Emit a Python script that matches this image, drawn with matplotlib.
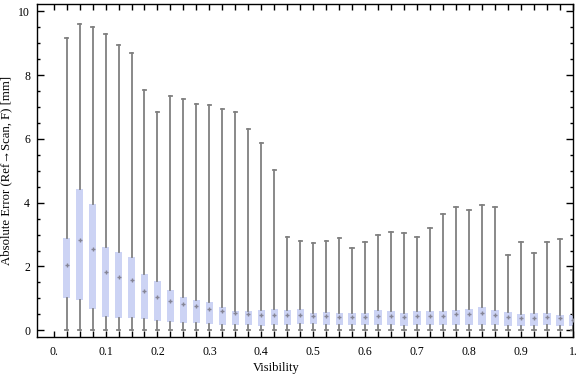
import numpy as np
import matplotlib
matplotlib.use("Agg")
import matplotlib.pyplot as plt

plt.rcParams['font.family'] = ['Liberation Serif', 'DejaVu Serif']

# visibility bins (40 bins of 0.025)
visibility = np.round(np.arange(1, 41) * 0.025, 3)

whisker_hi = [9.15, 9.59, 9.50, 9.29, 8.94, 8.69, 7.53, 6.83, 7.34, 7.24,
              7.08, 7.05, 6.93, 6.83, 6.30, 5.86, 5.02, 2.92, 2.80, 2.73,
              2.79, 2.88, 2.57, 2.76, 2.99, 3.07, 3.04, 2.92, 3.20, 3.64,
              3.86, 3.76, 3.92, 3.86, 2.35, 2.76, 2.41, 2.76, 2.85, 1.89]
q3 = [2.89, 4.43, 3.96, 2.60, 2.45, 2.30, 1.76, 1.55, 1.26, 1.04,
      0.95, 0.88, 0.72, 0.60, 0.60, 0.64, 0.67, 0.64, 0.67, 0.53,
      0.57, 0.54, 0.54, 0.54, 0.63, 0.60, 0.54, 0.60, 0.60, 0.60,
      0.64, 0.67, 0.73, 0.64, 0.57, 0.51, 0.54, 0.54, 0.48, 0.47]
median = [2.06, 2.83, 2.56, 1.83, 1.66, 1.57, 1.22, 1.05, 0.93, 0.83,
          0.76, 0.68, 0.61, 0.53, 0.50, 0.47, 0.48, 0.47, 0.47, 0.44,
          0.45, 0.43, 0.42, 0.43, 0.46, 0.44, 0.43, 0.44, 0.44, 0.46,
          0.50, 0.52, 0.55, 0.49, 0.41, 0.38, 0.40, 0.41, 0.39, 0.32]
q1 = [1.02, 0.96, 0.68, 0.41, 0.40, 0.40, 0.36, 0.30, 0.27, 0.24,
      0.24, 0.21, 0.18, 0.18, 0.18, 0.14, 0.16, 0.18, 0.19, 0.21,
      0.18, 0.16, 0.18, 0.18, 0.18, 0.18, 0.14, 0.18, 0.18, 0.16,
      0.18, 0.18, 0.18, 0.18, 0.13, 0.14, 0.14, 0.18, 0.14, 0.14]
whisker_lo = [0.0] * 40

xtick_vals = np.round(np.arange(0, 11) * 0.1, 1)
xtick_labels = ["0.", "0.1", "0.2", "0.3", "0.4", "0.5", "0.6", "0.7", "0.8", "0.9", "1."]

stats = []
for i in range(len(visibility)):
    stats.append(dict(med=median[i], q1=q1[i], q3=q3[i],
                      whislo=whisker_lo[i], whishi=whisker_hi[i], fliers=[]))

fig = plt.figure(figsize=(5.76, 3.77), dpi=100)
ax = fig.add_axes([0.0642, 0.107, 0.9306, 0.8816])

ax.bxp(stats, positions=visibility, widths=0.0145, capwidths=0.0068,
       patch_artist=True, manage_ticks=False,
       boxprops=dict(facecolor='#ccd3f4', edgecolor='none', linewidth=0),
       whiskerprops=dict(color='#808080', linewidth=1.3),
       capprops=dict(color='#808080', linewidth=1.3),
       medianprops=dict(linestyle='none'))
ax.plot(visibility, median, linestyle='none', marker='+', markersize=3,
        markeredgewidth=1.0, color='#858595', zorder=4)

ax.set_xlim(-0.032, 1.0)
ax.set_ylim(-0.2, 10.22)

ax.set_xticks(xtick_vals)
ax.set_xticklabels(xtick_labels)
ax.set_xticks(np.round(np.arange(0, 41) * 0.025, 3), minor=True)
ax.set_yticks(np.arange(0, 11, 2))
ax.set_yticks(np.arange(0, 10.5, 0.5), minor=True)

ax.tick_params(which='both', direction='in', top=True, right=True,
               labelsize=8.5, width=1.0, pad=5)
ax.tick_params(axis='x', which='both', length=4)
ax.tick_params(axis='y', which='major', length=5)
ax.tick_params(axis='y', which='minor', length=2.5)
ax.tick_params(axis='x', which='major', pad=7)
for s in ax.spines.values():
    s.set_linewidth(1.0)

ax.set_xlabel("Visibility", fontsize=9)
ax.xaxis.set_label_coords(0.446, -0.075)
ax.set_ylabel("Absolute Error (Ref\u2192Scan, F) [mm]", fontsize=9.2, labelpad=4)

fig.savefig("out.png", dpi=100)
